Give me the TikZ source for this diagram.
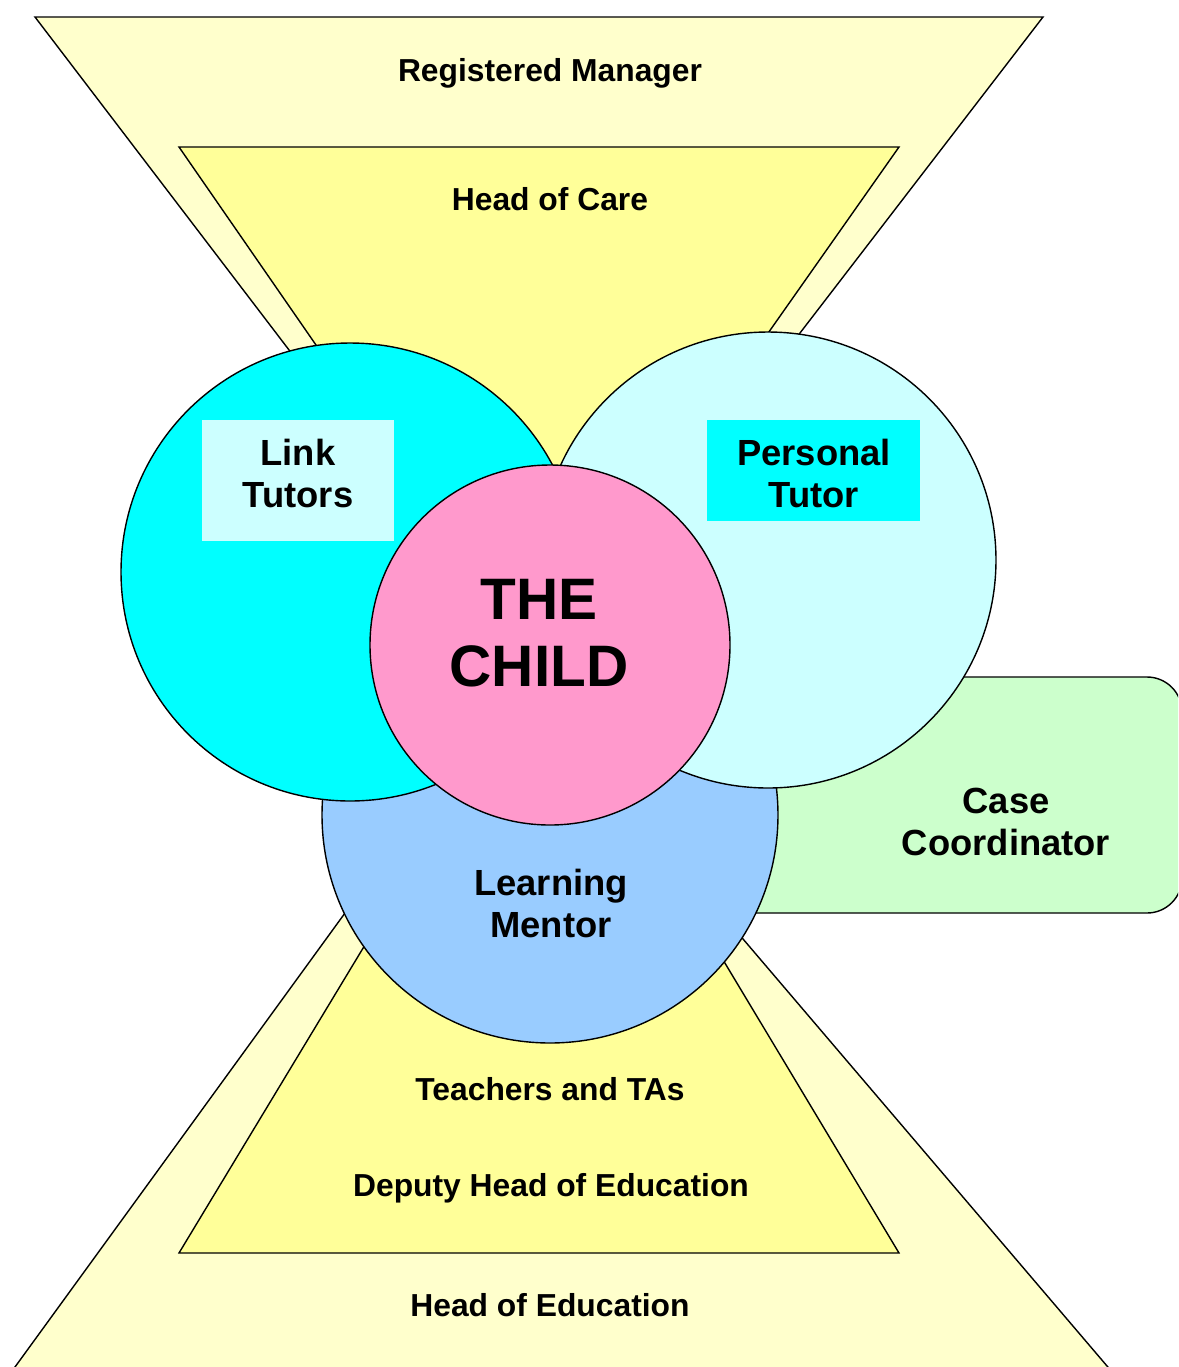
\documentclass[tikz,border=0pt]{standalone}
\usepackage{fontspec}
\setmainfont{Liberation Sans}
\definecolor{paleyellow}{HTML}{FFFFCC}
\definecolor{midyellow}{HTML}{FFFF99}
\definecolor{linkcyan}{HTML}{00FFFF}
\definecolor{palecyan}{HTML}{CCFFFF}
\definecolor{mentorblue}{HTML}{99CCFF}
\definecolor{childpink}{HTML}{FF99CC}
\definecolor{palegreen}{HTML}{CCFFCC}
\begin{document}
\begin{tikzpicture}[x=0.02cm,y=-0.02cm,
	outline/.style={draw,line width=0.8pt},
	level/.style={font=\bfseries\fontsize{18.1}{22}\selectfont,anchor=base,inner sep=0pt},
	role/.style={font=\bfseries\fontsize{20.7}{23.9}\selectfont,align=center,inner sep=0pt},
	rolebox/.style={minimum width=3.84cm,minimum height=2.42cm,inner sep=0pt}]
		\useasboundingbox (0,0) rectangle (1178,1367);
		\clip (0,0) rectangle (1178,1367);
		\draw[outline,fill=paleyellow] (35,17)--(1043,17)--(537,675)--cycle;
		\draw[outline,fill=midyellow] (179,147)--(899,147)--(536,663)--cycle;
		\draw[outline,fill=paleyellow] (-9,1400)--(518,675)--(1136,1400)--cycle;
		\draw[outline,fill=midyellow] (179,1253)--(540,655)--(899,1253)--cycle;
		\draw[outline,fill=palegreen,rounded corners=0.7cm] (700,677) rectangle (1182,913);
		\draw[outline,fill=mentorblue] (550,815) circle [radius=228];
		\draw[outline,fill=linkcyan] (350,572) circle [radius=229];
		\draw[outline,fill=palecyan] (768,560) circle [radius=228];
		\draw[outline,fill=childpink] (550,645) circle [radius=180];
		\node[rolebox,fill=palecyan] (linkbox) at (298,480.5) {};
		\node[rolebox,fill=linkcyan,minimum width=4.26cm,minimum height=2.02cm] (tutorbox) at (813.5,470.5) {};
		\node[level] (manager) at (550,81) {Registered Manager};
		\node[level] (care) at (550,210) {Head of Care};
		\node[level] (teachers) at (550,1100) {Teachers and TAs};
		\node[level] (deputy) at (551,1196) {Deputy Head of Education};
		\node[level] (education) at (550,1316) {Head of Education};
		\node[role] (link) at (298,473) {Link\\Tutors};
		\node[role] (tutor) at (814,473) {Personal\\Tutor};
		\node[role] (mentor) at (551,903) {Learning\\Mentor};
		\node[role] (coordinator) at (1006,822) {Case\\Coordinator};
		\node[role,font=\bfseries\fontsize{33.3}{38.1}\selectfont] (child) at (539,633) {THE\\CHILD};
\end{tikzpicture}
\end{document}
